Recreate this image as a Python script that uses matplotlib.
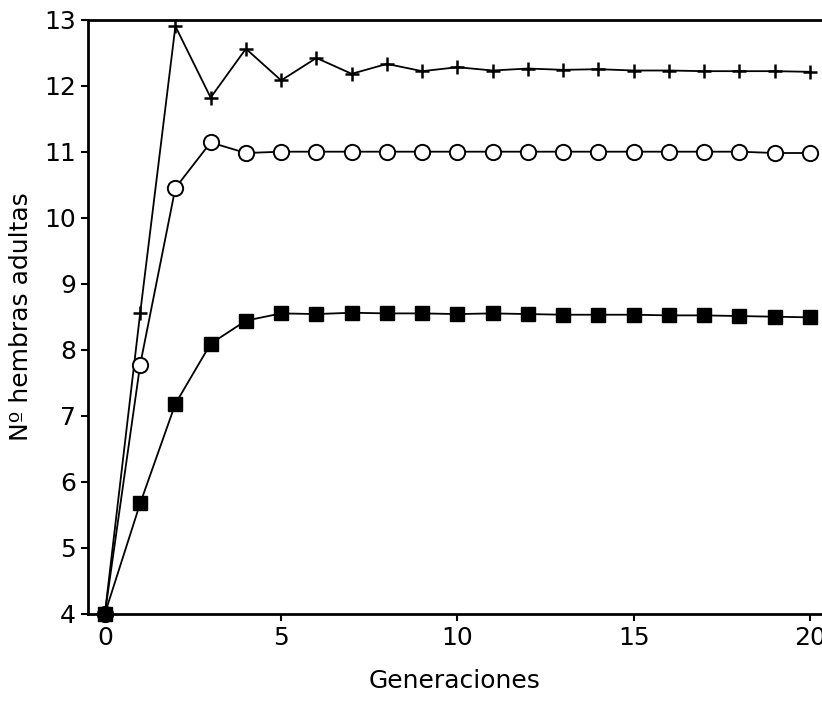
import numpy as np
import matplotlib.pyplot as plt

# Generations
gen = np.arange(0, 21)

# Series values
cruz = [4.0, 8.55, 12.9, 11.82, 12.56, 12.08, 12.42, 12.18, 12.33, 12.22, 12.28,
        12.23, 12.26, 12.24, 12.25, 12.23, 12.23, 12.22, 12.22, 12.22, 12.21]
circ = [4.0, 7.77, 10.45, 11.14, 10.98, 11.0, 11.0, 11.0, 11.0, 11.0, 11.0,
        11.0, 11.0, 11.0, 11.0, 11.0, 11.0, 11.0, 11.0, 10.98, 10.98]
cuad = [4.0, 5.67, 7.18, 8.09, 8.44, 8.55, 8.54, 8.56, 8.55, 8.55, 8.54,
        8.55, 8.54, 8.53, 8.53, 8.53, 8.52, 8.52, 8.51, 8.50, 8.49]

xticks = [0, 5, 10, 15, 20]
yticks = [4, 5, 6, 7, 8, 9, 10, 11, 12, 13]

fig = plt.figure(figsize=(8.22, 7.03), dpi=100)
ax = fig.add_axes([0.107, 0.127, 0.893, 0.845])

ax.plot(gen, cruz, color="black", lw=1.3, marker="+", ms=10, mew=1.8, clip_on=False)
ax.plot(gen, circ, color="black", lw=1.3, marker="o", ms=11, mfc="white", mew=1.4, clip_on=False)
ax.plot(gen, cuad, color="black", lw=1.3, marker="s", ms=9.5, mfc="black", clip_on=False)

ax.set_xlim(-0.48, 20.34)
ax.set_ylim(4, 13)
ax.set_xticks(xticks)
ax.set_yticks(yticks)
ax.tick_params(direction="out", length=5, width=1.5, labelsize=18)

for s in ["left", "bottom", "top"]:
    ax.spines[s].set_linewidth(2)
ax.spines["right"].set_visible(False)

ax.set_xlabel("Generaciones", fontsize=18, labelpad=14)
ax.set_ylabel("Nº hembras adultas", fontsize=18, labelpad=8)

fig.savefig("out.png", dpi=100)
